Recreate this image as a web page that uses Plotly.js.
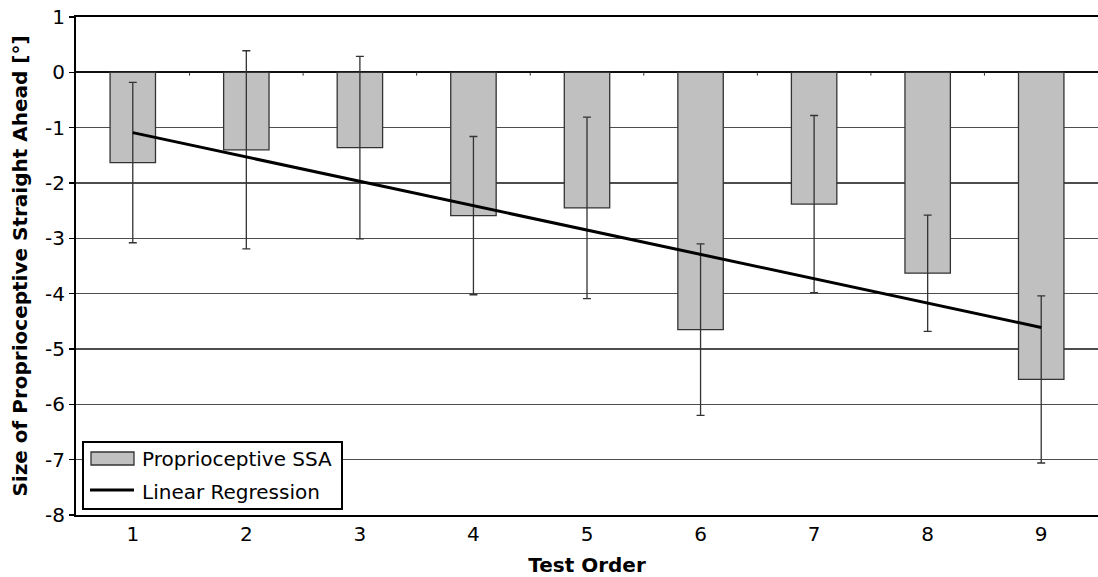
<!DOCTYPE html>
<html>
<head>
<meta charset="utf-8">
<script src="https://cdn.plot.ly/plotly-3.0.1.min.js"></script>
<style>
  html, body { margin: 0; padding: 0; background: #fff; }
  #chart { width: 1098px; height: 577px; }
</style>
</head>
<body>
<div id="chart"></div>
<script>
// Test order (categories along the x axis)
const testOrder = [1, 2, 3, 4, 5, 6, 7, 8, 9];
// Mean size of the proprioceptive straight ahead per test, in degrees
const ssaMean = [-1.63, -1.40, -1.36, -2.59, -2.45, -4.65, -2.38, -3.63, -5.55];
// Error bar half-lengths, in degrees
const ssaError = [1.45, 1.79, 1.65, 1.43, 1.64, 1.55, 1.60, 1.05, 1.51];
// Linear regression end points
const regressionX = [1, 9];
const regressionY = [-1.09, -4.61];
// Axis ticks
const yTicks = [1, 0, -1, -2, -3, -4, -5, -6, -7, -8];
// Legend entries
const legendLabels = ['Proprioceptive SSA', 'Linear Regression'];

const FONT = 'DejaVu Sans, Arial, sans-serif';
const INK = '#333333';

const traces = [
  {
    type: 'bar',
    x: testOrder,
    y: ssaMean,
    width: 0.4,
    name: legendLabels[0],
    marker: { color: '#c0c0c0', line: { color: INK, width: 1.3 } },
    error_y: { type: 'data', array: ssaError, visible: true, color: INK, thickness: 1.3, width: 4 },
    showlegend: false,
    hoverinfo: 'x+y'
  },
  {
    type: 'scatter',
    mode: 'lines',
    x: regressionX,
    y: regressionY,
    name: legendLabels[1],
    line: { color: '#000000', width: 3 },
    showlegend: false
  }
];

// Small category-boundary ticks hanging below the zero line
const boundaryTicks = testOrder.slice(0, -1).map(v => ({
  type: 'line', xref: 'x', yref: 'y',
  x0: v + 0.5, x1: v + 0.5, y0: 0, y1: -0.06,
  line: { color: INK, width: 1 }, layer: 'above'
}));

// Legend box, built from paper-referenced shapes and text
const px = v => (v - 76) / 1022;
const py = v => (515 - v) / 498;
const legendShapes = [
  { type: 'rect', xref: 'paper', yref: 'paper',
    x0: px(83), x1: px(342), y0: py(509), y1: py(442),
    fillcolor: '#ffffff', line: { color: '#000000', width: 2 }, layer: 'above' },
  { type: 'rect', xref: 'paper', yref: 'paper',
    x0: px(91), x1: px(134), y0: py(465), y1: py(452),
    fillcolor: '#c0c0c0', line: { color: INK, width: 1.3 }, layer: 'above' },
  { type: 'line', xref: 'paper', yref: 'paper',
    x0: px(90), x1: px(134), y0: py(490), y1: py(490),
    line: { color: '#000000', width: 3 }, layer: 'above' }
];
const legendText = [
  { xref: 'paper', yref: 'paper', x: px(140), y: py(459), xanchor: 'left', yanchor: 'middle',
    text: legendLabels[0], showarrow: false, font: { family: FONT, size: 20, color: '#000' } },
  { xref: 'paper', yref: 'paper', x: px(140), y: py(492), xanchor: 'left', yanchor: 'middle',
    text: legendLabels[1], showarrow: false, font: { family: FONT, size: 20, color: '#000' } }
];

const layout = {
  width: 1098,
  height: 577,
  margin: { l: 76, r: 0, t: 17, b: 62 },
  paper_bgcolor: '#ffffff',
  plot_bgcolor: '#ffffff',
  font: { family: FONT, size: 20, color: '#000000' },
  showlegend: false,
  xaxis: {
    range: [0.5, 9.5],
    tickvals: testOrder,
    ticktext: testOrder.map(String),
    ticks: '',
    showgrid: false,
    zeroline: false,
    showline: true,
    mirror: true,
    linecolor: '#000000',
    linewidth: 2,
    tickfont: { family: FONT, size: 20, color: '#000' },
    title: { text: '<b>Test Order</b>', font: { family: FONT, size: 20, color: '#000' }, standoff: 13 }
  },
  yaxis: {
    range: [-8, 1],
    tickvals: yTicks,
    ticktext: yTicks.map(String),
    ticks: 'outside',
    ticklen: 5,
    tickwidth: 1.5,
    tickcolor: '#000000',
    showgrid: true,
    gridcolor: '#4d4d4d',
    gridwidth: 1.5,
    zeroline: true,
    zerolinecolor: '#111111',
    zerolinewidth: 1.8,
    showline: true,
    mirror: true,
    linecolor: '#000000',
    linewidth: 2,
    tickfont: { family: FONT, size: 20, color: '#000' },
    title: { text: '<b>Size of Proprioceptive Straight Ahead [°]</b>', font: { family: FONT, size: 20, color: '#000' }, standoff: 12 }
  },
  shapes: boundaryTicks.concat(legendShapes),
  annotations: legendText
};

Plotly.newPlot('chart', traces, layout, { staticPlot: true, displayModeBar: false });
</script>
</body>
</html>
